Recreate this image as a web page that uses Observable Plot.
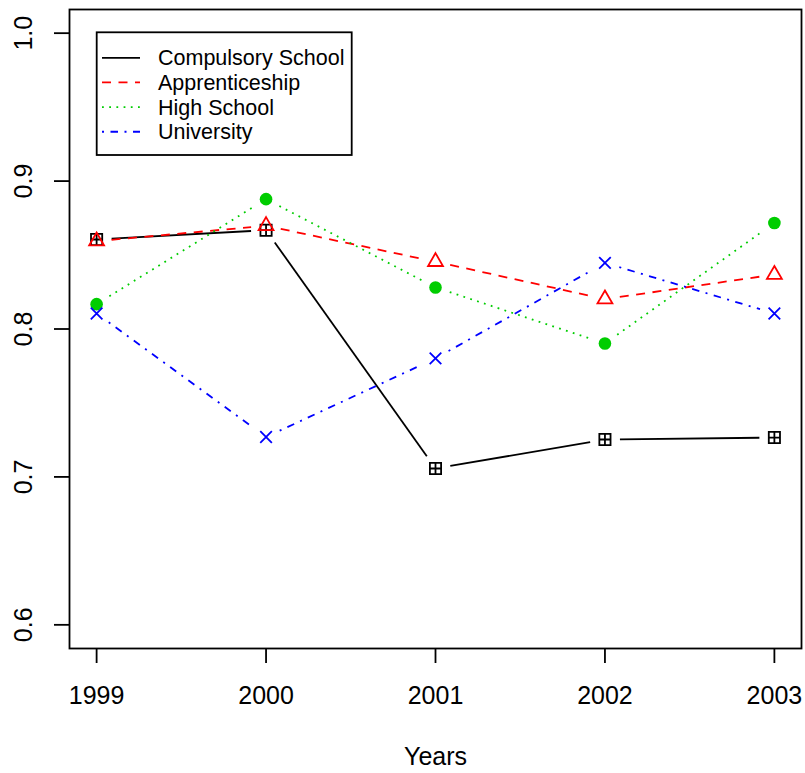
<!DOCTYPE html>
<html><head><meta charset="utf-8">
<script src="https://cdn.jsdelivr.net/npm/d3@7"></script>
<script src="https://cdn.jsdelivr.net/npm/@observablehq/plot@0.6"></script>
<style>
body{margin:0;background:#fff}
#chart{position:relative;width:805px;height:773px}
</style>
</head><body><div id="chart"></div>
<script>
const years = [1999, 2000, 2001, 2002, 2003];
const seriesNames = ["Compulsory School", "Apprenticeship", "High School", "University"];
const compulsory = [0.8605, 0.8668, 0.7057, 0.7253, 0.7266];
const apprenticeship = [0.8594, 0.8698, 0.8455, 0.8202, 0.8368];
const highSchool = [0.8168, 0.8878, 0.8281, 0.7902, 0.8717];
const university = [0.8105, 0.7270, 0.7801, 0.8447, 0.8105];
const yTicks = [0.6, 0.7, 0.8, 0.9, 1.0];
const xLabel = "Years";

const colors = ["#000000", "#FF0000", "#00CD00", "#0000FF"];
const dashes = ["none", "9,7.5", "1.8,5.4", "2,6.5,7.5,6.5"];
const seriesValues = [compulsory, apprenticeship, highSchool, university];

// custom symbols (R pch 12, 2, 4)
const boxplus = {draw(c, size) { const s = Math.sqrt(size / Math.PI);
  c.moveTo(-s, -s); c.lineTo(s, -s); c.lineTo(s, s); c.lineTo(-s, s); c.closePath();
  c.moveTo(-s, 0); c.lineTo(s, 0); c.moveTo(0, -s); c.lineTo(0, s); }};
const triangle = {draw(c, size) { const r = Math.sqrt(size / Math.PI);
  c.moveTo(0, -r); c.lineTo(r * 0.866, r / 2); c.lineTo(-r * 0.866, r / 2); c.closePath(); }};
const times = {draw(c, size) { const s = Math.sqrt(size / Math.PI);
  c.moveTo(-s, -s); c.lineTo(s, s); c.moveTo(-s, s); c.lineTo(s, -s); }};
const symbols = [boxplus, triangle, "circle", times];
const radii = [5.6, 8.6, 6.3, 5.8];

const points = [];
const segs = [];
seriesValues.forEach((vals, k) => {
  vals.forEach((v, i) => {
    points.push({series: k, year: years[i], value: v});
    if (i < vals.length - 1) segs.push({series: k, x1: years[i], y1: v, x2: years[i + 1], y2: vals[i + 1]});
  });
});

const marks = [Plot.frame({stroke: "#000", strokeWidth: 1.8})];
seriesValues.forEach((vals, k) => {
  marks.push(Plot.arrow(segs.filter(d => d.series === k), {
    x1: "x1", y1: "y1", x2: "x2", y2: "y2", headLength: 0,
    insetStart: 15, insetEnd: 15, stroke: colors[k], strokeWidth: 1.8,
    strokeDasharray: dashes[k], strokeLinecap: "butt"
  }));
});
seriesValues.forEach((vals, k) => {
  const filled = k === 2;
  marks.push(Plot.dot(points.filter(d => d.series === k), {
    x: "year", y: "value", symbol: symbols[k], r: radii[k],
    fill: filled ? colors[k] : "none", stroke: filled ? "none" : colors[k], strokeWidth: 1.8
  }));
});
marks.push(
  Plot.axisX({ticks: years, tickSize: 15, tickPadding: 23, tickFormat: d3.format("d"), fontSize: 25, strokeWidth: 1.8, label: null}),
  Plot.axisY({ticks: yTicks, tickSize: 15, tickFormat: () => "", strokeWidth: 1.8, label: null}),
  Plot.text(yTicks, {y: d => d, text: d => d3.format(".1f")(d), frameAnchor: "left", textAnchor: "middle", lineAnchor: "middle", dx: -45.5, rotate: -90, fontSize: 25, fill: "#000"}),
  Plot.text([xLabel], {text: d => d, frameAnchor: "bottom", dy: 116, fontSize: 25, fill: "#000"})
);

const plot = Plot.plot({
  width: 805, height: 773,
  marginLeft: 69, marginRight: 4, marginTop: 9, marginBottom: 125,
  style: {fontFamily: "'Liberation Sans', Arial, Helvetica, sans-serif", background: "#fff", color: "#000", overflow: "visible"},
  x: {domain: [1998.84, 2003.16], label: null},
  y: {domain: [0.584, 1.016], label: null},
  marks
});

// legend box (R-style, inside plot area)
const svg = d3.select(plot);
const lg = svg.append("g").attr("font-family", "'Liberation Sans', Arial, Helvetica, sans-serif").attr("text-anchor", "start");
lg.append("rect").attr("x", 96.7).attr("y", 32.3).attr("width", 255).attr("height", 122.7)
  .attr("fill", "#fff").attr("stroke", "#000").attr("stroke-width", 1.8);
seriesNames.forEach((name, i) => {
  const yy = 57.8 + 24.65 * i;
  lg.append("line").attr("x1", 102).attr("x2", 140).attr("y1", yy).attr("y2", yy)
    .attr("stroke", colors[i]).attr("stroke-width", 1.8).attr("stroke-dasharray", dashes[i]);
  lg.append("text").attr("x", 158).attr("y", yy).attr("dy", "0.35em").attr("text-anchor", "start")
    .attr("font-size", 21.5).attr("fill", "#000").text(name);
});

document.getElementById("chart").appendChild(plot);
</script>
</body></html>
